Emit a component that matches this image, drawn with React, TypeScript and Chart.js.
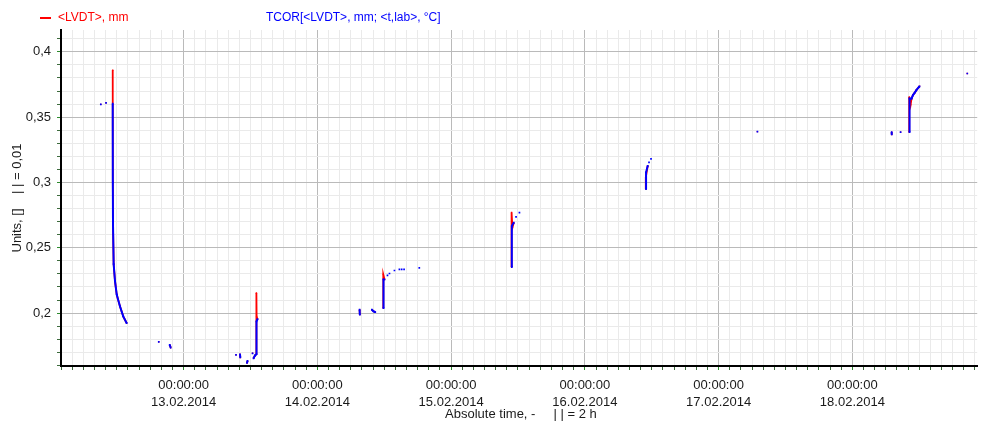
import { useEffect, useRef } from "react";
import { Chart, registerables } from "chart.js";

Chart.register(...registerables);

// x values: hours since 12.02.2014 00:00:00 ; null = gap in the record
const tcorHours = [
  9.14, null, 10.08, null,
  11.28, 11.3, 11.33, 11.45, 11.69, 12.0, 12.58, 13.17, 13.78, null,
  19.54, null, 21.5, 21.68, null, 33.4, null, 34.12, 34.17, null, 35.37, 35.47, null,
  36.37, null, 36.55, 36.8, 37.08, 37.08, 37.26, null,
  55.58, 55.62, null, 57.78, 58.08, 58.39, null,
  59.87, 59.87, 60.05, null, 60.58, null, 60.94, null, 61.83, null, 62.72, null, 63.13, null, 63.56, null, 66.29, null,
  82.89, 82.89, 83.24, null, 83.65, null, 84.26, null,
  106.98, 106.98, 107.28, null, 107.51, null, 107.87, null,
  126.96, null,
  151.05, 151.06, null, 152.65, null,
  154.26, 154.26, 154.62, 154.85, 155.15, 155.46, 155.92, 156.05, null,
  164.62,
];
const tcorValues = [
  0.3598, null, 0.3609, null,
  0.3603, 0.3, 0.268, 0.2375, 0.2244, 0.2142, 0.2052, 0.1975, 0.1923, null,
  0.178, null, 0.1757, 0.1736, null, 0.168, null, 0.1685, 0.166, null, 0.1618, 0.1634, null,
  0.1692, null, 0.1654, 0.1675, 0.1685, 0.1936, 0.1954, null,
  0.2026, 0.1988, null, 0.2026, 0.2013, 0.2008, null,
  0.2038, 0.2257, 0.2257, null, 0.2288, null, 0.2303, null, 0.2326, null, 0.2334, null, 0.2334, null, 0.2334, null, 0.2346, null,
  0.2352, 0.2667, 0.2692, null, 0.2736, null, 0.2769, null,
  0.2949, 0.3077, 0.3128, null, 0.3154, null, 0.318, null,
  0.3389, null,
  0.3385, 0.3367, null, 0.3385, null,
  0.3385, 0.3642, 0.3642, 0.3667, 0.3685, 0.3705, 0.373, 0.3736, null,
  0.3834,
];
const lvdtHours = [
  9.14, null, 10.08, null,
  11.28, 11.3, 11.33, 11.45, 11.69, 12.0, 12.58, 13.17, 13.78, null,
  19.54, null, 21.5, 21.68, null, 33.4, null, 34.12, 34.17, null, 35.37, 35.47, null,
  36.37, null, 36.55, 36.8, 37.06, 37.06, 37.1, 37.26, null,
  55.58, 55.62, null, 57.78, 58.08, 58.39, null,
  59.83, 59.83, 60.05, null,
  82.85, 82.85, 83.0, 83.24, null,
  106.93, 106.93, 107.28, null,
  126.96, null,
  151.05, 151.06, null, 152.65, null,
  154.2, 154.2, 154.45, 154.62, 154.85, 155.15, 155.46, 155.92, 156.05, null,
  164.62,
];
const lvdtValues = [
  0.3598, null, 0.3609, null,
  0.386, 0.3, 0.268, 0.2375, 0.2244, 0.2142, 0.2052, 0.1975, 0.1923, null,
  0.178, null, 0.1757, 0.1736, null, 0.168, null, 0.1685, 0.166, null, 0.1618, 0.1634, null,
  0.1692, null, 0.1654, 0.1675, 0.1685, 0.2154, 0.1974, 0.1954, null,
  0.2026, 0.1988, null, 0.2026, 0.2013, 0.2008, null,
  0.2038, 0.2295, 0.2257, null,
  0.2352, 0.277, 0.2654, 0.2692, null,
  0.2949, 0.304, 0.3128, null,
  0.3389, null,
  0.3385, 0.3367, null, 0.3385, null,
  0.3385, 0.3654, 0.3595, 0.3642, 0.3667, 0.3685, 0.3705, 0.373, 0.3736, null,
  0.3834,
];

const dayTickHours = [24, 48, 72, 96, 120, 144];
const dayLabels = ["13.02.2014", "14.02.2014", "15.02.2014", "16.02.2014", "17.02.2014", "18.02.2014"];
const timeLabel = "00:00:00";

const lvdtLabel = "<LVDT>, mm";
const tcorLabel = "TCOR[<LVDT>, mm; <t,lab>, °C]";
const xTitle = " Absolute time, -     | | = 2 h";
const yTitle = "Units, []    | | = 0,01";

const xMin = 2;
const xMax = 166.4;
const xStep = 2;
const yMin = 0.1595;
const yMax = 0.4167;
const yStep = 0.01;
const yMajorStep = 0.05;

const FONT = '"Liberation Sans", Arial, Helvetica, sans-serif';

function toPoints(hours: (number | null)[], values: (number | null)[]) {
  let prev = hours[0] ?? 0;
  return hours.map((h, i) => {
    const x = h ?? prev;
    prev = x;
    return { x, y: values[i] };
  });
}

function isYMajor(v: number) {
  const r = v / yMajorStep;
  return Math.abs(r - Math.round(r)) < 1e-6;
}
function isXMajor(v: number) {
  return dayTickHours.indexOf(Math.round(v)) >= 0 && Math.abs(v - Math.round(v)) < 1e-6;
}

const legendPlugin = {
  id: "topLegend",
  afterDraw(chart: any) {
    const ctx = chart.ctx as CanvasRenderingContext2D;
    ctx.save();
    ctx.font = `12px ${FONT}`;
    ctx.textBaseline = "middle";
    ctx.textAlign = "left";
    ctx.strokeStyle = "#ff0000";
    ctx.lineWidth = 2;
    ctx.beginPath();
    ctx.moveTo(40, 18);
    ctx.lineTo(51, 18);
    ctx.stroke();
    ctx.fillStyle = "#ff0000";
    ctx.fillText(lvdtLabel, 58, 18);
    ctx.fillStyle = "#0000ff";
    ctx.fillText(tcorLabel, 266, 18);
    ctx.restore();
  },
};

export default function App() {
  const ref = useRef<HTMLCanvasElement | null>(null);

  useEffect(() => {
    if (!ref.current) return;
    const xTicks: number[] = [];
    for (let v = Math.ceil(xMin / xStep) * xStep; v <= xMax + 1e-9; v += xStep) xTicks.push(v);
    const yTicks: number[] = [];
    for (let k = Math.ceil(yMin / yStep - 1e-9); k * yStep <= yMax + 1e-9; k++) yTicks.push(Math.round(k * yStep * 1000) / 1000);

    const chart = new Chart(ref.current, {
      type: "line",
      data: {
        datasets: [
          {
            label: tcorLabel,
            data: toPoints(tcorHours, tcorValues) as any,
            borderColor: "#0000ff",
            backgroundColor: "#0000ff",
            borderWidth: 2,
            tension: 0.00001,
            pointStyle: "rect",
            pointRadius: 1.2,
            pointBorderWidth: 0,
            spanGaps: false,
            order: 0,
          },
          {
            label: lvdtLabel,
            data: toPoints(lvdtHours, lvdtValues) as any,
            borderColor: "#ff0000",
            backgroundColor: "#ff0000",
            borderWidth: 1.8,
            tension: 0.00001,
            pointStyle: "rect",
            pointRadius: 1.0,
            pointBorderWidth: 0,
            spanGaps: false,
            order: 1,
          },
        ],
      },
      options: {
        animation: false,
        responsive: true,
        maintainAspectRatio: false,
        layout: { padding: { top: 30, left: 0, right: 0, bottom: 0 } },
        plugins: {
          legend: { display: false },
          tooltip: { enabled: false },
        },
        scales: {
          x: {
            type: "linear",
            min: xMin,
            max: xMax,
            afterBuildTicks: (s: any) => {
              s.ticks = xTicks.map((v) => ({ value: v }));
            },
            afterFit: (s: any) => {
              s.height = 56;
            },
            grid: {
              color: (c: any) => (isXMajor(c.tick?.value ?? 0) ? "#bababa" : "#eaeaea"),
              lineWidth: 1,
              tickColor: (c: any) => (isXMajor(c.tick?.value ?? 0) ? "#2e8b2e" : "#3d6b3d"),
              tickLength: 4,
            },
            border: { color: "#000000", width: 2 },
            ticks: {
              autoSkip: false,
              maxRotation: 0,
              minRotation: 0,
              padding: 7,
              color: "#1a1a1a",
              font: { size: 13, family: FONT, lineHeight: 1.3 },
              callback: (v: any) => {
                const i = dayTickHours.indexOf(Math.round(Number(v)));
                return isXMajor(Number(v)) && i >= 0 ? [timeLabel, dayLabels[i]] : "";
              },
            },
            title: {
              display: true,
              text: xTitle,
              color: "#1a1a1a",
              font: { size: 13, family: FONT },
              padding: { top: 0, bottom: 0 },
            },
          },
          y: {
            type: "linear",
            min: yMin,
            max: yMax,
            afterBuildTicks: (s: any) => {
              s.ticks = yTicks.map((v) => ({ value: v }));
            },
            afterFit: (s: any) => {
              s.width = 61;
            },
            grid: {
              color: (c: any) => (isYMajor(c.tick?.value ?? 0) ? "#bababa" : "#eaeaea"),
              lineWidth: 1,
              tickColor: (c: any) => (isYMajor(c.tick?.value ?? 0) ? "#2e8b2e" : "#3d6b3d"),
              tickLength: 4,
            },
            border: { color: "#000000", width: 2 },
            ticks: {
              autoSkip: false,
              padding: 6,
              color: "#1a1a1a",
              font: { size: 13, family: FONT },
              callback: (v: any) => {
                const n = Number(v);
                return isYMajor(n) ? String(Math.round(n * 100) / 100).replace(".", ",") : "";
              },
            },
            title: {
              display: true,
              text: yTitle,
              color: "#1a1a1a",
              font: { size: 13, family: FONT },
              padding: { top: 10, bottom: 0 },
            },
          },
        },
      },
      plugins: [legendPlugin],
    });
    return () => chart.destroy();
  }, []);

  return (
    <div style={{ position: "fixed", left: 0, top: 0, width: 982, height: 422, background: "#fff" }}>
      <canvas ref={ref} />
    </div>
  );
}
